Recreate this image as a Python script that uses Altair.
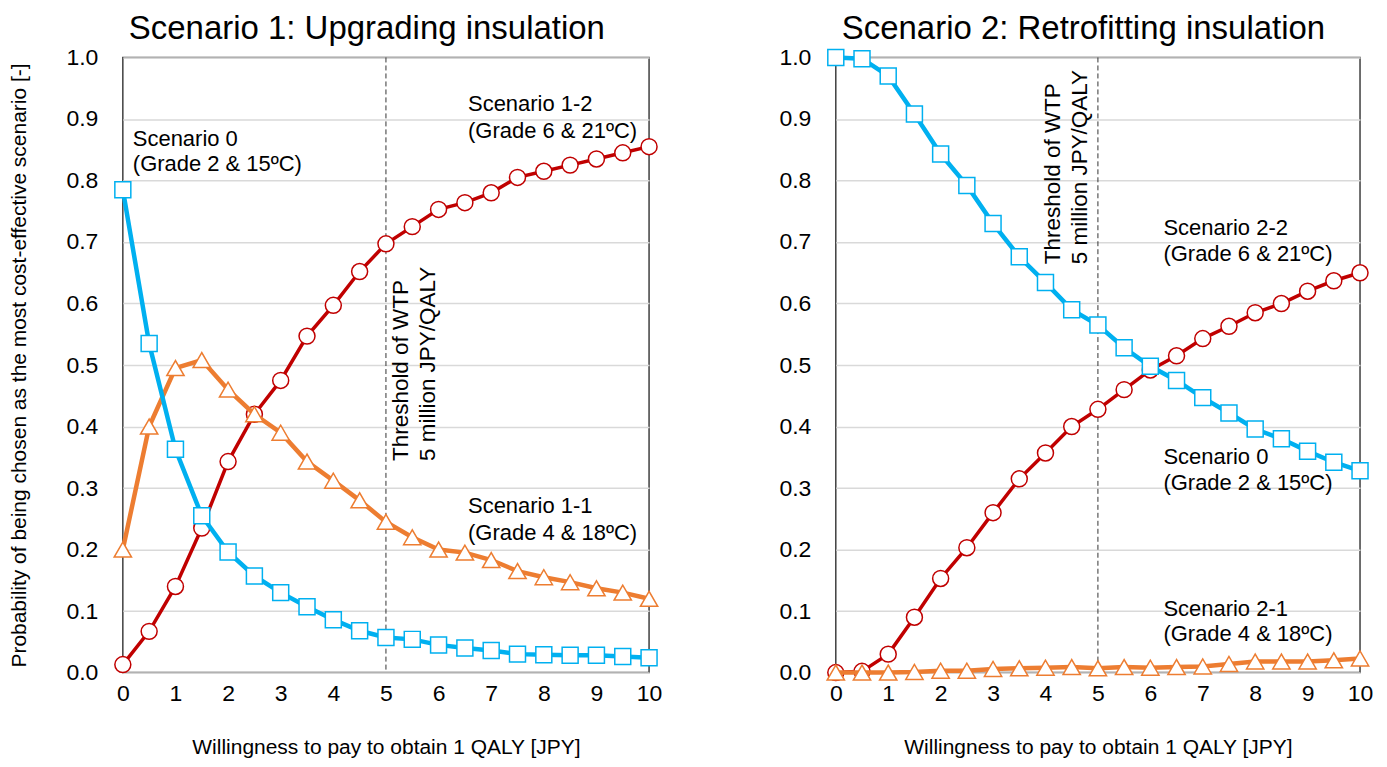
import altair as alt
import pandas as pd

# ---------------- data ----------------
wtp = [0, 0.5, 1, 1.5, 2, 2.5, 3, 3.5, 4, 4.5, 5, 5.5, 6, 6.5, 7, 7.5, 8, 8.5, 9, 9.5, 10]

# Scenario 1 panel
s1_sc0 = [0.785, 0.535, 0.363, 0.255, 0.196, 0.157, 0.130, 0.107, 0.086, 0.068, 0.057,
          0.054, 0.045, 0.040, 0.036, 0.030, 0.029, 0.028, 0.028, 0.026, 0.024]
s1_sc11 = [0.200, 0.400, 0.495, 0.508, 0.460, 0.420, 0.390, 0.343, 0.312, 0.280, 0.245,
           0.220, 0.200, 0.195, 0.183, 0.165, 0.155, 0.147, 0.137, 0.130, 0.120]
s1_sc12 = [0.013, 0.067, 0.140, 0.235, 0.343, 0.420, 0.475, 0.547, 0.597, 0.652, 0.697,
           0.725, 0.753, 0.764, 0.780, 0.805, 0.815, 0.825, 0.835, 0.845, 0.855]

# Scenario 2 panel
s2_sc0 = [1.000, 0.998, 0.970, 0.908, 0.843, 0.792, 0.730, 0.676, 0.634, 0.590, 0.565,
          0.528, 0.498, 0.475, 0.447, 0.422, 0.396, 0.380, 0.360, 0.342, 0.328]
s2_sc21 = [0.000, 0.000, 0.000, 0.001, 0.003, 0.003, 0.006, 0.007, 0.008, 0.009, 0.007,
           0.009, 0.008, 0.009, 0.010, 0.014, 0.018, 0.018, 0.018, 0.020, 0.023]
s2_sc22 = [0.000, 0.002, 0.030, 0.090, 0.153, 0.203, 0.260, 0.315, 0.357, 0.400, 0.428,
           0.460, 0.492, 0.515, 0.543, 0.563, 0.585, 0.600, 0.620, 0.637, 0.650]

x_ticks = list(range(11))
y_ticks = [0.0, 0.1, 0.2, 0.3, 0.4, 0.5, 0.6, 0.7, 0.8, 0.9, 1.0]

threshold_x = [5]
threshold_text = "Threshold of WTP\n5 million JPY/QALY"

# labels: (text, x, y) in data units
left_labels_text = ["Scenario 0", "(Grade 2 & 15ºC)", "Scenario 1-2", "(Grade 6 & 21ºC)",
                    "Scenario 1-1", "(Grade 4 & 18ºC)"]
left_labels_x = [0.19, 0.19, 6.56, 6.56, 6.56, 6.56]
left_labels_y = [0.868, 0.826, 0.924, 0.880, 0.270, 0.227]

right_labels_text = ["Scenario 2-2", "(Grade 6 & 21ºC)", "Scenario 0", "(Grade 2 & 15ºC)",
                     "Scenario 2-1", "(Grade 4 & 18ºC)"]
right_labels_x = [6.25, 6.25, 6.25, 6.25, 6.25, 6.25]
right_labels_y = [0.722, 0.681, 0.351, 0.308, 0.104, 0.062]

# ---------------- styling ----------------
FONT = "Liberation Sans"
BLUE = "#00B0F0"
ORANGE = "#ED7D31"
RED = "#C00000"
W, H = 527, 616

xscale = alt.Scale(domain=[0, 10], nice=False, zero=False)
yscale = alt.Scale(domain=[0, 1], nice=False)

xaxis = alt.Axis(values=x_ticks, format="d", grid=False, ticks=False, domain=False,
                 labelFont=FONT, labelFontSize=23, labelColor="black", labelPadding=10,
                 titleFont=FONT, titleFontSize=21, titleFontWeight="normal",
                 titleColor="black", titlePadding=31, labelFlush=False)


def yaxis():
    return alt.Axis(values=y_ticks, format=".1f", grid=True, gridColor="#D9D9D9", gridWidth=1.5,
                    ticks=False, domain=False, labelFont=FONT, labelFontSize=23,
                    labelColor="black", labelPadding=25, titleFont=FONT, titleFontSize=21,
                    titleFontWeight="normal", titleColor="black", titlePadding=36)


def series(y, color, shape, width, size, ytitle):
    df = pd.DataFrame({"x": wtp, "y": y})
    base = alt.Chart(df).encode(
        x=alt.X("x:Q", scale=xscale, axis=xaxis, title="Willingness to pay to obtain 1 QALY [JPY]"),
        y=alt.Y("y:Q", scale=yscale, axis=yaxis(), title=ytitle),
    )
    line = base.mark_line(color=color, strokeWidth=width)
    pts = base.mark_point(shape=shape, filled=True, fill="white", stroke=color,
                          strokeWidth=1.5, size=size, opacity=1)
    return line + pts


def threshold(shift, ypos):
    rdf = pd.DataFrame({"x": threshold_x})
    rule = alt.Chart(rdf).mark_rule(color="#333333", strokeWidth=1, strokeDash=[5, 3]).encode(
        x=alt.X("x:Q", scale=xscale))
    tdf = pd.DataFrame({"x": threshold_x, "y": [ypos], "t": [threshold_text]})
    txt = alt.Chart(tdf).mark_text(angle=270, align="left", baseline="top", dy=shift,
                                   font=FONT, fontSize=22.5, lineBreak="\n", lineHeight=27,
                                   color="black").encode(
        x=alt.X("x:Q", scale=xscale), y=alt.Y("y:Q", scale=yscale), text="t:N")
    return rule + txt


def labels(texts, xs, ys):
    df = pd.DataFrame({"x": xs, "y": ys, "t": texts})
    return alt.Chart(df).mark_text(align="left", baseline="middle", font=FONT, fontSize=22,
                                   color="black").encode(
        x=alt.X("x:Q", scale=xscale), y=alt.Y("y:Q", scale=yscale), text="t:N")


ytitle_left = "Probability of being chosen as the most cost-effective scenario [-]"


def panel_title(text):
    return alt.TitleParams(text, font=FONT, fontSize=33, fontWeight="normal", color="black",
                           anchor="start", frame="group", dx=6, offset=1)


left = alt.layer(
    threshold(4, 0.344),
    series(s1_sc12, RED, "circle", 3.5, 256, ytitle_left),
    series(s1_sc11, ORANGE, "triangle-up", 4.5, 300, ytitle_left),
    series(s1_sc0, BLUE, "square", 4.5, 256, ytitle_left),
    labels(left_labels_text, left_labels_x, left_labels_y),
).properties(width=W, height=H, title=panel_title("Scenario 1: Upgrading insulation"))

right = alt.layer(
    threshold(-56, 0.664),
    series(s2_sc22, RED, "circle", 3.5, 256, None),
    series(s2_sc21, ORANGE, "triangle-up", 4.5, 300, None),
    series(s2_sc0, BLUE, "square", 4.5, 256, None),
    labels(right_labels_text, right_labels_x, right_labels_y),
).properties(width=W - 2, height=H, title=panel_title("Scenario 2: Retrofitting insulation"))

chart = alt.hconcat(left, right, spacing=115).properties(
    padding={"top": 3, "left": 0, "right": 5, "bottom": 0}
).configure_view(stroke="#404040", strokeWidth=1.5)

chart.save("out.html", embed_options={"renderer": "svg", "actions": False})
